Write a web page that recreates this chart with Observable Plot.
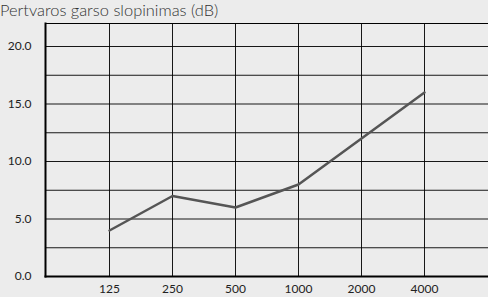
<!DOCTYPE html>
<html><head><meta charset="utf-8">
<script src="https://cdn.jsdelivr.net/npm/d3@7"></script>
<script src="https://cdn.jsdelivr.net/npm/@observablehq/plot@0.6"></script>
<style>
html,body{margin:0;padding:0;background:#ececec;}
#title{font-family:Lato,"Open Sans",sans-serif;font-weight:300;font-size:16.4px;line-height:20px;height:20px;color:#333;padding-left:0px;white-space:nowrap;}
#chart svg{display:block;}
</style></head>
<body>
<div id="title">Pertvaros garso slopinimas (dB)</div>
<div id="chart"></div>
<script>
const freqs = ["125","250","500","1000","2000","4000"];
const values = [4, 7, 6, 8, 12, 16];
const yGrid = [0, 2.5, 5, 7.5, 10, 12.5, 15, 17.5, 20];
const yTicks = [0, 5, 10, 15, 20];
const yTop = 22;

const data = freqs.map((f, i) => ({freq: f, value: values[i]}));

const chart = Plot.plot({
  width: 488,
  height: 277,
  marginTop: 3,
  marginBottom: 21,
  marginLeft: 45,
  marginRight: 0,
  style: {background: "#ececec", fontFamily: "Lato, 'Open Sans', sans-serif", fontSize: "12px", color: "#222"},
  x: {type: "point", domain: freqs, padding: 1, label: null},
  y: {domain: [0, yTop], label: null},
  marks: [
    Plot.ruleY(yGrid, {stroke: "#000", strokeWidth: 1, strokeOpacity: 0.9}),
    Plot.ruleY([yTop], {stroke: "#000", strokeWidth: 1}),
    Plot.ruleX(freqs, {stroke: "#000", strokeWidth: 1, strokeOpacity: 0.9}),
    Plot.frame({anchor: "left", stroke: "#000", strokeWidth: 2}),
    Plot.frame({anchor: "bottom", stroke: "#000", strokeWidth: 2}),
    Plot.axisY(yTicks, {tickSize: 0, tickPadding: 14, tickFormat: d => d.toFixed(1), label: null}),
    Plot.axisX(freqs, {tickSize: 0, tickPadding: 8, label: null}),
    Plot.line(data, {x: "freq", y: "value", stroke: "#555", strokeWidth: 2.5})
  ]
});
document.getElementById("chart").appendChild(chart);
</script>
</body></html>
